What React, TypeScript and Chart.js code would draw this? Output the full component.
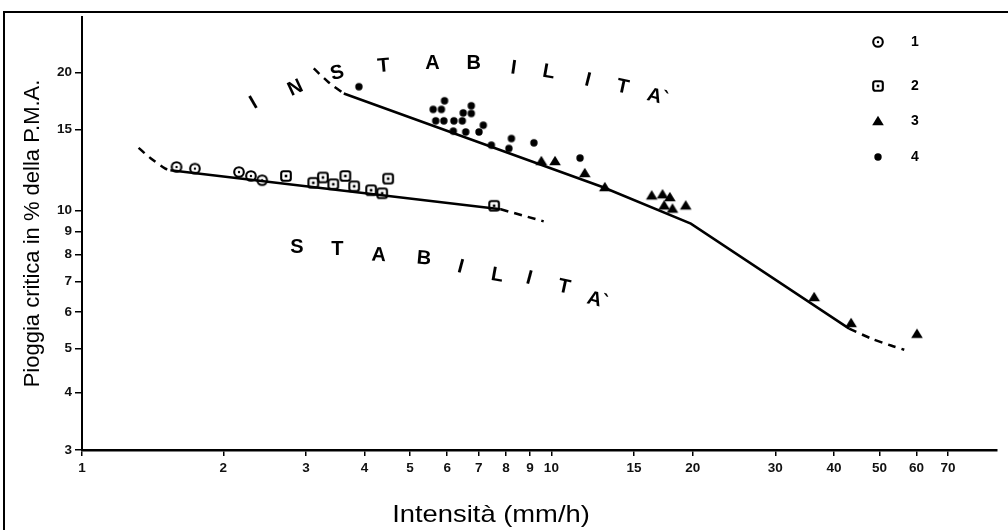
import React, { useEffect, useRef } from 'react';
import { Chart, registerables } from 'chart.js';

Chart.register(...registerables);

// ---------- data ----------
const seriesLabels = ['1', '2', '3', '4'];

const s1X = [1.59, 1.74, 2.16, 2.29, 2.42];
const s1Y = [12.43, 12.33, 12.12, 11.88, 11.63];

const s2X = [2.72, 3.11, 3.26, 3.43, 3.64, 3.8, 4.13, 4.36, 4.49, 7.55];
const s2Y = [11.88, 11.48, 11.79, 11.4, 11.88, 11.28, 11.06, 10.89, 11.72, 10.23];

const s3X = [9.52, 10.18, 11.78, 13.0, 16.36, 17.25, 17.88, 17.39, 18.11, 19.33, 36.3, 43.5, 60.1];
const s3Y = [12.81, 12.81, 12.06, 11.24, 10.78, 10.84, 10.69, 10.25, 10.09, 10.25, 6.47, 5.68, 5.38];

const s4X = [3.89, 5.92, 5.6, 5.83, 6.75, 6.49, 6.75, 5.67, 5.9, 6.2, 6.46, 7.16, 6.18, 6.57, 7.01, 7.45, 8.22, 8.12, 9.18, 11.51];
const s4Y = [18.6, 17.33, 16.6, 16.6, 16.9, 16.31, 16.26, 15.67, 15.67, 15.67, 15.67, 15.33, 14.88, 14.82, 14.82, 13.87, 14.34, 13.64, 14.03, 13.0];

// lower boundary curve
const lowDashAX = [1.32, 1.4, 1.505, 1.543];
const lowDashAY = [13.68, 12.99, 12.33, 12.23];
const lowSolidX = [1.543, 7.8];
const lowSolidY = [12.23, 10.05];
const lowDashBX = [7.8, 9.63];
const lowDashBY = [10.05, 9.46];

// upper boundary curve
const upDashAX = [3.117, 3.351, 3.612];
const upDashAY = [20.39, 19.03, 17.98];
const upSolidX = [3.612, 12.85, 19.82, 43.1];
const upSolidY = [17.98, 11.24, 9.35, 5.52];
const upDashBX = [43.1, 47.97, 52.9, 56.47];
const upDashBY = [5.52, 5.254, 5.07, 4.965];

// axes
const xTicks = [1, 2, 3, 4, 5, 6, 7, 8, 9, 10, 15, 20, 30, 40, 50, 60, 70];
const yTicks = [3, 4, 5, 6, 7, 8, 9, 10, 15, 20];
const xMin = 1;
const xMax = 89;
const yMin = 3;
const yMax = 26.4;
const xTitle = 'Intensità (mm/h)';
const yTitle = 'Pioggia critica in % della P.M.A.';

// region labels (letters placed along arcs, in data units)
const instabLetters = ['I', 'N', 'S', 'T', 'A', 'B', 'I', 'L', 'I', 'T', 'A`'];
const instabX = [2.32, 2.85, 3.5, 4.39, 5.58, 6.83, 8.31, 9.87, 11.95, 14.19, 16.85];
const instabY = [17.13, 18.47, 19.92, 20.63, 20.94, 20.94, 20.42, 20.02, 19.22, 18.56, 17.65];
const instabRot = [-30, -25, -15, -5, 0, 0, 8, 10, 14, 12, 15];

const stabLetters = ['S', 'T', 'A', 'B', 'I', 'L', 'I', 'T', 'A`'];
const stabX = [2.87, 3.5, 4.29, 5.35, 6.41, 7.67, 8.96, 10.64, 12.54];
const stabY = [8.31, 8.22, 7.97, 7.84, 7.52, 7.21, 7.1, 6.8, 6.36];
const stabRot = [0, 0, 3, 5, 15, 10, 15, 12, 15];

// ---------- helpers ----------
const FONT = '"Liberation Sans", Arial, Helvetica, sans-serif';

const pts = (xs: number[], ys: number[]) => xs.map((x, i) => ({ x, y: ys[i] }));

function makeMarker(kind: string): HTMLCanvasElement {
  const c = document.createElement('canvas');
  const size = 14;
  c.width = size;
  c.height = size;
  const g = c.getContext('2d') as CanvasRenderingContext2D;
  g.strokeStyle = '#000';
  g.fillStyle = '#000';
  g.lineWidth = 2.1;
  const m = size / 2;
  if (kind === 'circleDot') {
    g.beginPath();
    g.arc(m, m, 4.8, 0, Math.PI * 2);
    g.stroke();
    g.beginPath();
    g.arc(m, m, 1.2, 0, Math.PI * 2);
    g.fill();
  } else if (kind === 'squareDot') {
    const s = 9.6;
    const r = 2.2;
    const x0 = m - s / 2;
    const y0 = m - s / 2;
    g.beginPath();
    g.moveTo(x0 + r, y0);
    g.lineTo(x0 + s - r, y0);
    g.quadraticCurveTo(x0 + s, y0, x0 + s, y0 + r);
    g.lineTo(x0 + s, y0 + s - r);
    g.quadraticCurveTo(x0 + s, y0 + s, x0 + s - r, y0 + s);
    g.lineTo(x0 + r, y0 + s);
    g.quadraticCurveTo(x0, y0 + s, x0, y0 + s - r);
    g.lineTo(x0, y0 + r);
    g.quadraticCurveTo(x0, y0, x0 + r, y0);
    g.closePath();
    g.stroke();
    g.fillRect(m - 1.3, m - 1.3, 2.6, 2.6);
  } else if (kind === 'triangle') {
    g.beginPath();
    g.moveTo(m, m - 5.2);
    g.lineTo(m + 5.8, m + 4.2);
    g.lineTo(m - 5.8, m + 4.2);
    g.closePath();
    g.fill();
  } else {
    g.beginPath();
    g.arc(m, m, 3.7, 0, Math.PI * 2);
    g.fill();
  }
  return c;
}

export default function App() {
  const ref = useRef<HTMLCanvasElement>(null);

  useEffect(() => {
    const canvas = ref.current;
    if (!canvas) return;
    const markers = ['circleDot', 'squareDot', 'triangle', 'dot'].map(makeMarker);

    const lineDs = (data: { x: number; y: number }[], dashed: boolean) => ({
      data,
      showLine: true,
      pointRadius: 0,
      borderColor: '#000',
      backgroundColor: '#000',
      borderWidth: 2.5,
      borderDash: dashed ? [8, 6] : [],
      tension: dashed ? 0.3 : 0,
      fill: false,
      order: 2,
    });

    const pointDs = (label: string, data: { x: number; y: number }[], img: HTMLCanvasElement) => ({
      label,
      data,
      showLine: false,
      pointStyle: img,
      pointRadius: 6,
      order: 0,
    });

    const annotPlugin = {
      id: 'annot',
      afterDraw(chart: any) {
        const ctx = chart.ctx as CanvasRenderingContext2D;
        const xs = chart.scales.x;
        const ys = chart.scales.y;
        ctx.save();
        ctx.fillStyle = '#000';
        ctx.textAlign = 'center';
        ctx.textBaseline = 'middle';
        ctx.font = `bold 20px ${FONT}`;
        const drawLetters = (letters: string[], lx: number[], ly: number[], rot: number[]) => {
          letters.forEach((ch, i) => {
            const px = xs.getPixelForValue(lx[i]);
            const py = ys.getPixelForValue(ly[i]);
            ctx.save();
            ctx.translate(px, py);
            ctx.rotate((rot[i] * Math.PI) / 180);
            ctx.fillText(ch, 0, 0);
            ctx.restore();
          });
        };
        drawLetters(instabLetters, instabX, instabY, instabRot);
        drawLetters(stabLetters, stabX, stabY, stabRot);

        // legend
        const legendY = [42, 86, 121, 157];
        ctx.font = `bold 14px ${FONT}`;
        seriesLabels.forEach((lab, i) => {
          const img = markers[i];
          ctx.drawImage(img, 878 - img.width / 2, legendY[i] - img.height / 2);
          ctx.fillText(lab, 915, legendY[i]);
        });

        // x axis title
        ctx.save();
        ctx.translate(491, 522);
        ctx.scale(1.14, 1);
        ctx.font = `24px ${FONT}`;
        ctx.textBaseline = 'alphabetic';
        ctx.fillText(xTitle, 0, 0);
        ctx.restore();
        ctx.restore();
      },
    };

    const chart = new Chart(canvas, {
      type: 'scatter',
      data: {
        datasets: [
          pointDs(seriesLabels[0], pts(s1X, s1Y), markers[0]),
          pointDs(seriesLabels[1], pts(s2X, s2Y), markers[1]),
          pointDs(seriesLabels[2], pts(s3X, s3Y), markers[2]),
          pointDs(seriesLabels[3], pts(s4X, s4Y), markers[3]),
          lineDs(pts(lowDashAX, lowDashAY), true),
          lineDs(pts(lowSolidX, lowSolidY), false),
          lineDs(pts(lowDashBX, lowDashBY), true),
          lineDs(pts(upDashAX, upDashAY), true),
          lineDs(pts(upSolidX, upSolidY), false),
          lineDs(pts(upDashBX, upDashBY), true),
        ] as any,
      },
      options: {
        responsive: false,
        animation: false,
        layout: { padding: { top: 17, right: 11, left: 0, bottom: 0 } },
        plugins: {
          legend: { display: false },
          tooltip: { enabled: false },
        },
        scales: {
          x: {
            type: 'logarithmic',
            position: 'bottom',
            min: xMin,
            max: xMax,
            afterBuildTicks: (s: any) => {
              s.ticks = xTicks.map((v) => ({ value: v }));
            },
            afterFit: (s: any) => {
              s.height = 80;
              s.paddingLeft = 0;
              s.paddingRight = 0;
            },
            ticks: {
              autoSkip: false,
              maxRotation: 0,
              minRotation: 0,
              padding: 4,
              color: '#111',
              font: { family: FONT, size: 13.5, weight: 'bold' },
              callback: (v: any) => String(v),
            },
            grid: {
              display: true,
              drawOnChartArea: false,
              drawTicks: true,
              tickLength: 6,
              color: '#000',
              lineWidth: 1.5,
            },
            border: { display: true, color: '#000', width: 2.5 },
            title: { display: false },
          },
          y: {
            type: 'logarithmic',
            position: 'left',
            min: yMin,
            max: yMax,
            afterBuildTicks: (s: any) => {
              s.ticks = yTicks.map((v) => ({ value: v }));
            },
            afterFit: (s: any) => {
              s.width = 82;
              s.paddingTop = 0;
              s.paddingBottom = 0;
            },
            ticks: {
              autoSkip: false,
              padding: 3,
              color: '#111',
              font: { family: FONT, size: 13.5, weight: 'bold' },
              callback: (v: any) => String(v),
            },
            grid: {
              display: true,
              drawOnChartArea: false,
              drawTicks: true,
              tickLength: 7,
              color: '#000',
              lineWidth: 1.5,
            },
            border: { display: true, color: '#000', width: 2 },
            title: {
              display: true,
              text: yTitle,
              color: '#000',
              font: { family: FONT, size: 22, weight: 'normal' },
              padding: { top: 20, bottom: 0 },
            },
          },
        },
      } as any,
      plugins: [annotPlugin],
    });

    return () => chart.destroy();
  }, []);

  return (
    <div
      style={{
        position: 'absolute',
        left: 0,
        top: 0,
        width: 1008,
        height: 530,
        background: '#fff',
        overflow: 'hidden',
      }}
    >
      <div
        style={{
          position: 'absolute',
          left: 3,
          top: 11,
          width: 1020,
          height: 540,
          borderTop: '2px solid #000',
          borderLeft: '2px solid #000',
        }}
      />
      <canvas
        ref={ref}
        width={1008}
        height={530}
        style={{ position: 'absolute', left: 0, top: 0, width: 1008, height: 530 }}
      />
    </div>
  );
}
